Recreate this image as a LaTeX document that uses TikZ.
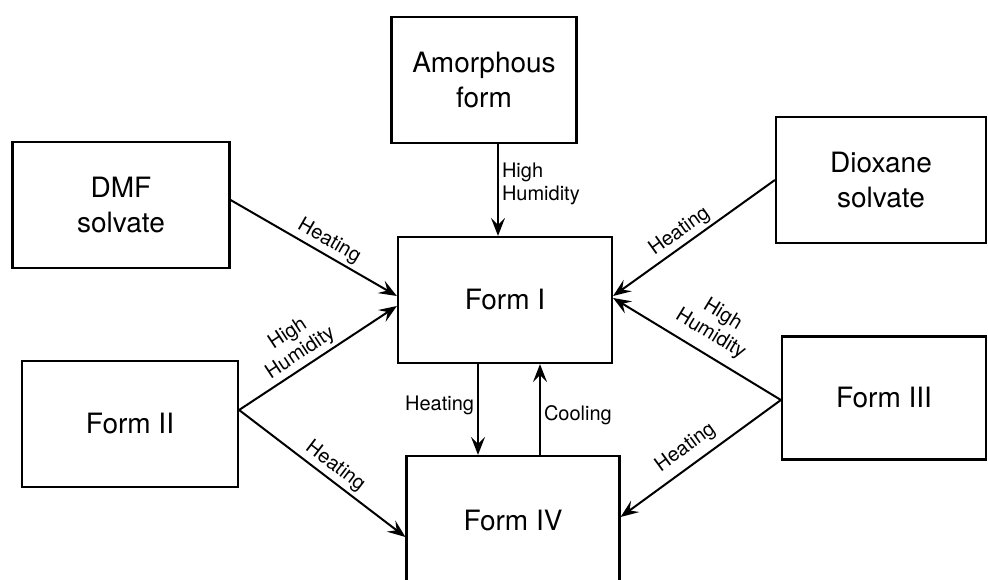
\documentclass[tikz,border=0pt]{standalone}
\usepackage{fontspec}
\setmainfont{TeX Gyre Heros}
\usetikzlibrary{arrows.meta}
\tikzset{
  formbox/.style={draw, line width=2.2pt, inner sep=0pt, align=center,
    minimum width=214pt, minimum height=126pt,
    font=\fontsize{28}{35}\selectfont},
  conv/.style={line width=2pt, -{Stealth[length=18pt,width=14pt,inset=7pt]}},
  lbl/.style={font=\fontsize{20}{23}\selectfont, inner sep=3pt}
}
\begin{document}
\begin{tikzpicture}[x=1pt,y=-1pt]
\useasboundingbox (0,0) rectangle (988,580);
% Boxes (positions as in the scan)
\node[formbox, minimum width=185pt] (amorph) at (484,80) {Amorphous\\form};
\node[formbox, minimum width=217pt] (dmf) at (121,205) {DMF\\solvate};
\node[formbox, minimum width=210pt] (dioxane) at (881,180) {Dioxane\\solvate};
\node[formbox] (formI) at (505,300) {Form I};
\node[formbox, minimum width=216pt] (formII) at (130,424) {Form II};
\node[formbox, minimum width=204pt, minimum height=123pt] (formIII) at (884,398) {Form III};
\node[formbox, minimum width=213pt, minimum height=130pt] (formIV) at (513,521) {Form IV};

% Into Form I from the top and the left
\draw[conv] ([xshift=14pt]amorph.south) -- ([xshift=14pt]amorph.south |- formI.north)
  node[lbl, midway, right, align=left, yshift=6pt] {High\\Humidity};
\draw[conv] ([yshift=5pt]dmf.east) -- ([yshift=4pt]formI.west)
  node[lbl, midway, sloped, above, xshift=10pt] {Heating};
\draw[conv] ([yshift=14pt]formII.east) -- ([yshift=-6pt]formI.west)
  node[lbl, midway, sloped, above, align=center, xshift=-12pt] {High\\Humidity};

% Into Form I from the right
\draw[conv] (dioxane.west) -- ([yshift=4pt]formI.east)
  node[lbl, midway, sloped, above, xshift=-8pt] {Heating};
\draw[conv] ([yshift=-2pt]formIII.west) -- ([yshift=2pt]formI.east)
  node[lbl, midway, sloped, above=6pt, align=center, xshift=4pt] {High\\Humidity};

% Into Form IV
\draw[conv] ([yshift=14pt]formII.east) -- ([yshift=-16pt]formIV.west)
  node[lbl, midway, sloped, above, xshift=6pt] {Heating};
\draw[conv] ([yshift=-2pt]formIII.west) -- ([yshift=4pt]formIV.east)
  node[lbl, midway, sloped, above=4pt, xshift=-6pt] {Heating};

% Form I <-> Form IV
\draw[conv] ([xshift=-27pt]formI.south) -- ([xshift=-27pt]formI.south |- formIV.north)
  node[lbl, midway, left, yshift=4pt] {Heating};
\draw[conv] ([xshift=35pt]formI.south |- formIV.north) -- ([xshift=35pt]formI.south)
  node[lbl, midway, right, yshift=-6pt] {Cooling};
\end{tikzpicture}
\end{document}
